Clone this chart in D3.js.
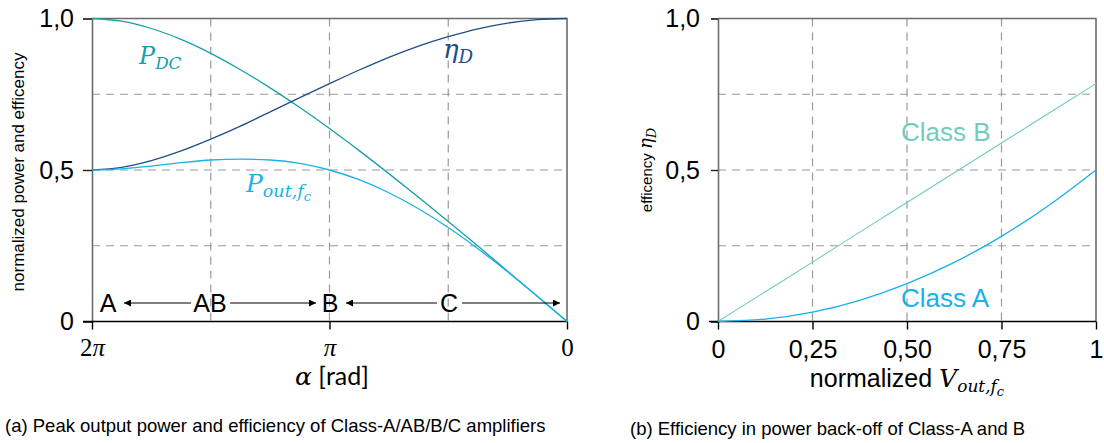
<!DOCTYPE html>
<html>
<head>
<meta charset="utf-8">
<script src="https://cdn.jsdelivr.net/npm/d3@7"></script>
<style>
  body { margin: 0; background: #fff; }
  svg text { font-family: "Liberation Sans", Arial, sans-serif; }
  .math { font-family: "DejaVu Serif", serif; font-style: italic; }
</style>
</head>
<body>
<svg id="chart" width="1104" height="443"></svg>
<script>
// conduction angle alpha, in units of pi (2pi -> 0)
const alphaPi = [2, 1.875, 1.75, 1.625, 1.5, 1.375, 1.25, 1.125, 1, 0.875, 0.75, 0.625, 0.5, 0.375, 0.25, 0.125, 0];
const pDC  = [1.000, 0.991, 0.967, 0.931, 0.885, 0.831, 0.771, 0.706, 0.637, 0.564, 0.488, 0.410, 0.330, 0.249, 0.166, 0.083, 0];
const pOut = [0.500, 0.504, 0.513, 0.524, 0.533, 0.536, 0.533, 0.522, 0.500, 0.468, 0.425, 0.372, 0.310, 0.240, 0.164, 0.083, 0];
const etaD = [0.500, 0.509, 0.531, 0.563, 0.602, 0.645, 0.692, 0.739, 0.785, 0.830, 0.872, 0.909, 0.940, 0.966, 0.985, 0.996, 1.000];

// power back-off, normalized Vout
const vOut   = [0, 0.125, 0.25, 0.375, 0.5, 0.625, 0.75, 0.875, 1];
const classB = [0, 0.098, 0.196, 0.295, 0.393, 0.491, 0.589, 0.687, 0.785];
const classA = [0, 0.008, 0.031, 0.070, 0.125, 0.195, 0.281, 0.383, 0.500];

const yTicks = [0, 0.5, 1];
const yGrid = [0.25, 0.5, 0.75];
const xTicksA = [2, 1, 0];
const xGridA = [1.5, 1, 0.5];
const xTicksB = [0, 0.25, 0.5, 0.75, 1];
const xGridB = [0.25, 0.5, 0.75];

const colDC = '#1a9fa6', colEta = '#1f4e8a', colOut = '#19b2ea';
const colB = '#6fcdbb', colA = '#19b0ec';

const svg = d3.select('#chart');
const fmt = v => v === 0 ? '0' : d3.format('.1f')(v).replace('.', ',');
const fmt2 = v => v === 0 ? '0' : v === 1 ? '1' : d3.format('.2f')(v).replace('.', ',');

const y = d3.scaleLinear().domain([0, 1]).range([321.5, 18.5]);
const xA = d3.scaleLinear().domain([2, 0]).range([92, 567]);
const xB = d3.scaleLinear().domain([0, 1]).range([718, 1096]);

svg.append('defs').append('marker')
    .attr('id', 'arr').attr('viewBox', '0 0 10 10').attr('refX', 10).attr('refY', 5)
    .attr('markerWidth', 10).attr('markerHeight', 7).attr('markerUnits', 'userSpaceOnUse')
    .attr('orient', 'auto-start-reverse')
    .append('path').attr('d', 'M0,0L10,5L0,10Z').attr('fill', '#000');

function panel(x, xTicks, xGrid, yTickLen, yPad) {
    const g = svg.append('g');
    const [x0, x1] = x.range();
    // grid
    g.selectAll('.hg').data(yGrid).enter().append('line')
        .attr('x1', x0).attr('x2', x1).attr('y1', d => y(d)).attr('y2', d => y(d))
        .attr('stroke', '#9a9a9a').attr('stroke-width', 1.2).attr('stroke-dasharray', '8,6');
    g.selectAll('.vg').data(xGrid).enter().append('line')
        .attr('x1', d => x(d)).attr('x2', d => x(d)).attr('y1', y(1)).attr('y2', y(0))
        .attr('stroke', '#9a9a9a').attr('stroke-width', 1.2).attr('stroke-dasharray', '8,6');
    // frame top / right
    g.append('path').attr('d', `M${x0},${y(1)}H${x1}V${y(0)}`)
        .attr('fill', 'none').attr('stroke', '#6b6b6b').attr('stroke-width', 1.6);

    const ya = g.append('g').attr('transform', `translate(${x0},0)`)
        .call(d3.axisLeft(y).tickValues(yTicks).tickFormat(fmt).tickSize(yTickLen).tickPadding(yPad));
    ya.attr('font-family', null);
    ya.select('.domain').attr('stroke', '#6b6b6b').attr('stroke-width', 1.6);
    ya.selectAll('.tick line').attr('stroke', '#222').attr('stroke-width', 1.4);
    ya.selectAll('text').attr('font-size', 25).attr('fill', '#000');

    const xa = g.append('g').attr('transform', `translate(0,${y(0)})`)
        .call(d3.axisBottom(x).tickValues(xTicks).tickFormat('').tickSize(8));
    xa.attr('font-family', null);
    xa.select('.domain').attr('d', `M${x0 - 9},0H${x1}`).attr('stroke', '#000').attr('stroke-width', 1.4);
    xa.selectAll('.tick line').attr('stroke', '#000').attr('stroke-width', 1.4);
    return xa;
}

// ---- panel (a)
const xaA = panel(xA, xTicksA, xGridA, 9, 9);
const ga = svg.append('g');
xaA.selectAll('.tick text').each(function (d) {
    const t = d3.select(this).attr('y', 34).attr('dy', null).attr('font-size', 25).attr('fill', '#000')
        .style('font-family', '"Liberation Serif", serif');
    if (d === 2) { t.append('tspan').text('2'); t.append('tspan').style('font-style', 'italic').text('π'); }
    else if (d === 1) t.append('tspan').style('font-style', 'italic').text('π');
    else t.text('0');
});

const lineA = d3.line().x((d, i) => xA(alphaPi[i])).y(d => y(d)).curve(d3.curveMonotoneX);
[[pDC, colDC], [etaD, colEta], [pOut, colOut]].forEach(([s, c]) => {
    ga.append('path').datum(s).attr('d', lineA).attr('fill', 'none').attr('stroke', c).attr('stroke-width', 1.3);
});

function mathLabel(g, x0, y0, main, sub, color, subsub, size) {
    size = size || 23;
    const t = g.append('text').attr('class', 'math').attr('x', x0).attr('y', y0).attr('fill', color).attr('font-size', size);
    t.append('tspan').text(main);
    t.append('tspan').attr('font-size', size * 0.7).attr('dy', 5).text(sub);
    if (subsub) t.append('tspan').attr('font-size', size * 0.52).attr('dy', 4).text(subsub);
    return t;
}
mathLabel(ga, 139, 64, 'P', 'DC', colDC, null, 24);
mathLabel(ga, 443, 58, 'η', 'D', colEta, null, 26);
mathLabel(ga, 246, 192, 'P', 'out,f', colOut, 'c', 25);

// class regions
const classLbl = [['A', 108], ['AB', 210], ['B', 330], ['C', 449]];
ga.selectAll('.cl').data(classLbl).enter().append('text')
    .attr('x', d => d[1]).attr('y', 312).attr('text-anchor', 'middle')
    .attr('font-size', 25).attr('fill', '#000').text(d => d[0]);
const arrows = [[124, 191, 'start'], [230, 316, 'end'], [346, 437, 'start'], [462, 560, 'end']];
ga.selectAll('.ar').data(arrows).enter().append('line')
    .attr('x1', d => d[0]).attr('x2', d => d[1]).attr('y1', 303).attr('y2', 303)
    .attr('stroke', '#000').attr('stroke-width', 1.2)
    .attr('marker-start', d => d[2] === 'start' ? 'url(#arr)' : null)
    .attr('marker-end', d => d[2] === 'end' ? 'url(#arr)' : null);

const xlab = ga.append('text').attr('x', 332).attr('y', 385).attr('text-anchor', 'middle')
    .attr('font-size', 25).attr('fill', '#000');
xlab.append('tspan').attr('class', 'math').text('α');
xlab.append('tspan').style('font-family', 'Lato, sans-serif').text(' [rad]');

ga.append('text').attr('transform', 'translate(24,172) rotate(-90)').attr('text-anchor', 'middle')
    .attr('font-size', 17).attr('fill', '#000').text('normalized power and efficency');

svg.append('text').attr('x', 5).attr('y', 432).attr('font-size', 18.5).attr('fill', '#000')
    .text('(a) Peak output power and efficiency of Class-A/AB/B/C amplifiers');

// ---- panel (b)
const xaB = panel(xB, xTicksB, xGridB, 7, 11);
const gb = svg.append('g');
xaB.selectAll('.tick text').attr('y', 36).attr('dy', null).attr('font-size', 25).attr('fill', '#000').text(fmt2);

const lineB = d3.line().x((d, i) => xB(vOut[i])).y(d => y(d)).curve(d3.curveMonotoneX);
[[classB, colB, 1.1], [classA, colA, 1.3]].forEach(([s, c, w]) => {
    gb.append('path').datum(s).attr('d', lineB).attr('fill', 'none').attr('stroke', c).attr('stroke-width', w);
});
gb.append('text').attr('x', 901).attr('y', 141).attr('font-size', 26).attr('fill', colB).text('Class B');
gb.append('text').attr('x', 901).attr('y', 307).attr('font-size', 26).attr('fill', colA).text('Class A');

const xlb = gb.append('text').attr('x', 907).attr('y', 387).attr('text-anchor', 'middle').attr('font-size', 25).attr('fill', '#000');
xlb.append('tspan').text('normalized ');
xlb.append('tspan').attr('class', 'math').text('V');
xlb.append('tspan').attr('class', 'math').attr('font-size', 17).attr('dy', 5).text('out,f');
xlb.append('tspan').attr('class', 'math').attr('font-size', 13).attr('dy', 4).text('c');

const ylb = gb.append('text').attr('transform', 'translate(652,170) rotate(-90)').attr('text-anchor', 'middle')
    .attr('font-size', 15).attr('fill', '#000');
ylb.append('tspan').text('efficency ');
ylb.append('tspan').attr('class', 'math').attr('font-size', 18).text('η');
ylb.append('tspan').attr('class', 'math').attr('font-size', 13).attr('dy', 4).text('D');

svg.append('text').attr('x', 630).attr('y', 435).attr('font-size', 18.5).attr('fill', '#000')
    .text('(b) Efficiency in power back-off of Class-A and B');
</script>
</body>
</html>
